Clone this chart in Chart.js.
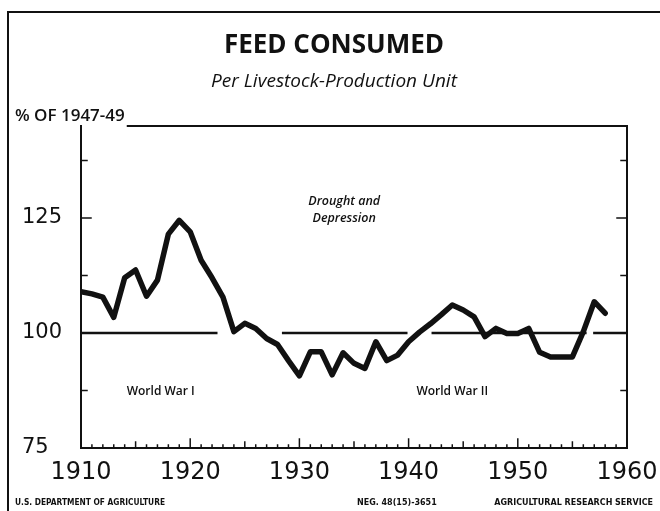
<!DOCTYPE html>
<html>
<head>
<meta charset="utf-8">
<script src="https://cdn.jsdelivr.net/npm/chart.js@4/dist/chart.umd.min.js"></script>
<style>
	body { margin: 0; background: #fff; }
	canvas { display: block; }
</style>
</head>
<body>
<canvas id="feedChart" width="660" height="511"></canvas>
<script>
// số liệu (% của 1947-49)
const years = [1910, 1911, 1912, 1913, 1914, 1915, 1916, 1917, 1918, 1919,
	1920, 1921, 1922, 1923, 1924, 1925, 1926, 1927, 1928, 1929,
	1930, 1931, 1932, 1933, 1934, 1935, 1936, 1937, 1938, 1939,
	1940, 1941, 1942, 1943, 1944, 1945, 1946, 1947, 1948, 1949,
	1950, 1951, 1952, 1953, 1954, 1955, 1956, 1957, 1958];
const feedValues = [109, 108.5, 107.8, 103.4, 112, 113.7, 108, 111.5, 121.5, 124.5,
	122, 115.8, 112, 107.8, 100.3, 102.1, 101, 98.8, 97.5, 94,
	90.7, 95.9, 95.9, 90.9, 95.7, 93.4, 92.3, 98.1, 94, 95.2,
	98.1, 100.2, 102, 104, 106.1, 105, 103.5, 99.2, 101, 99.9,
	99.9, 101, 95.8, 94.8, 94.8, 94.8, 100.3, 106.8, 104.3];

// đường 100 bị ngắt ở chỗ đường số liệu cắt qua
const baseLevel = 100;
const baseSpans = [[1910, 1922.5], [1928.4, 1939.9], [1942.1, 1956.3], [1956.9, 1960]];

const xTickLabels = [1910, 1920, 1930, 1940, 1950, 1960];
const yTickLabels = [75, 100, 125];

const titleText = 'FEED CONSUMED';
const subtitleText = 'Per Livestock-Production Unit';
const unitText = '% OF 1947-49';
const footerLeft = 'U.S. DEPARTMENT OF AGRICULTURE';
const footerNeg = 'NEG. 48(15)-3651';
const footerRight = 'AGRICULTURAL RESEARCH SERVICE';

const FONT = "'DejaVu Sans', sans-serif";
const INK = '#111';

const feedPoints = years.map((yr, i) => ({ x: yr, y: feedValues[i] }));
const basePoints = [];
baseSpans.forEach(s => {
	basePoints.push({ x: s[0], y: baseLevel }, { x: s[1], y: baseLevel }, { x: s[1], y: null });
});

// khung, vạch chia hướng vào trong và các dòng chữ
const decorPlugin = {
	id: 'decor',
	beforeDatasetsDraw(chart) {
		const ctx = chart.ctx;
		const a = chart.chartArea;
		const xs = chart.scales.x, ys = chart.scales.y;
		ctx.save();
		ctx.strokeStyle = INK;
		ctx.fillStyle = INK;
		ctx.lineCap = 'square';

		// chữ đơn vị ở góc trên bên trái
		ctx.textAlign = 'left';
		ctx.textBaseline = 'middle';
		ctx.font = "600 17px 'Open Sans', sans-serif";
		ctx.fillText(unitText, 15, 116);
		const unitEnd = 15 + ctx.measureText(unitText).width + 3;

		// khung ngoài
		ctx.lineWidth = 2;
		ctx.beginPath();
		ctx.moveTo(8, 511);
		ctx.lineTo(8, 12);
		ctx.lineTo(660, 12);
		ctx.stroke();

		// khung biểu đồ (cạnh trên bắt đầu sau chữ đơn vị)
		ctx.beginPath();
		ctx.moveTo(unitEnd, a.top);
		ctx.lineTo(a.right, a.top);
		ctx.lineTo(a.right, a.bottom);
		ctx.lineTo(a.left, a.bottom);
		ctx.lineTo(a.left, a.top);
		ctx.stroke();

		// vạch năm
		ctx.lineWidth = 1.5;
		for (let yr = 1910; yr <= 1960; yr++) {
			const px = xs.getPixelForValue(yr);
			const len = yr % 10 === 0 ? 9 : (yr % 5 === 0 ? 6 : 3);
			ctx.beginPath();
			ctx.moveTo(px, a.bottom);
			ctx.lineTo(px, a.bottom - len);
			ctx.stroke();
		}
		// vạch trục tung hai bên
		for (let v = 87.5; v < 145; v += 12.5) {
			const py = ys.getPixelForValue(v);
			const len = v % 25 === 0 ? 10 : 6;
			ctx.beginPath();
			ctx.moveTo(a.left, py);
			ctx.lineTo(a.left + len, py);
			ctx.moveTo(a.right, py);
			ctx.lineTo(a.right - len, py);
			ctx.stroke();
		}

		// tiêu đề
		ctx.textAlign = 'center';
		ctx.font = "bold 26px 'Open Sans', sans-serif";
		ctx.fillText(titleText, 334, 46);
		ctx.font = "italic 19px 'Open Sans', sans-serif";
		ctx.fillText(subtitleText, 334, 82);

		// chú thích trong biểu đồ
		ctx.font = "italic 600 12.5px 'Open Sans', sans-serif";
		ctx.fillText('Drought and', xs.getPixelForValue(1934.1), ys.getPixelForValue(128.6));
		ctx.fillText('Depression', xs.getPixelForValue(1934.1), ys.getPixelForValue(125.0));
		ctx.font = "600 12px 'Open Sans', sans-serif";
		ctx.fillText('World War I', xs.getPixelForValue(1917.3), ys.getPixelForValue(87.3));
		ctx.fillText('World War II', xs.getPixelForValue(1944), ys.getPixelForValue(87.3));

		// chân trang
		ctx.font = "bold 8px 'DejaVu Sans', sans-serif";
		ctx.textAlign = 'left';
		ctx.fillText(footerLeft, 15, 503, 150);
		ctx.fillText(footerNeg, 357, 503, 92);
		ctx.textAlign = 'right';
		ctx.fillText(footerRight, 653, 503, 186);
		ctx.restore();
	}
};

const ctx = document.getElementById('feedChart').getContext('2d');
new Chart(ctx, {
	type: 'line',
	data: {
		datasets: [{
			label: 'Feed consumed',
			data: feedPoints,
			borderColor: INK,
			borderWidth: 5.5,
			borderJoinStyle: 'round',
			borderCapStyle: 'round',
			pointRadius: 0,
			tension: 0
		}, {
			label: '100',
			data: basePoints,
			borderColor: INK,
			borderWidth: 2.5,
			pointRadius: 0,
			spanGaps: false,
			tension: 0
		}]
	},
	options: {
		responsive: false,
		animation: false,
		layout: { padding: { left: 22, right: 33, top: 126, bottom: 23 } },
		plugins: {
			legend: { display: false },
			tooltip: { enabled: false }
		},
		scales: {
			x: {
				type: 'linear',
				min: 1910,
				max: 1960,
				grid: { display: false },
				border: { display: false },
				afterFit: scale => { scale.height = 40; },
				afterBuildTicks: scale => { scale.ticks = xTickLabels.map(v => ({ value: v })); },
				ticks: {
					color: INK,
					padding: 2,
					maxRotation: 0,
					autoSkip: false,
					font: { family: FONT, size: 24 },
					callback: v => String(v)
				}
			},
			y: {
				min: 75,
				max: 145,
				grid: { display: false },
				border: { display: false },
				afterFit: scale => { scale.width = 59; },
				afterBuildTicks: scale => { scale.ticks = yTickLabels.map(v => ({ value: v })); },
				ticks: {
					color: INK,
					crossAlign: 'far',
					font: { family: FONT, size: 21 },
					callback: v => String(v)
				}
			}
		}
	},
	plugins: [decorPlugin]
});
</script>
</body>
</html>
